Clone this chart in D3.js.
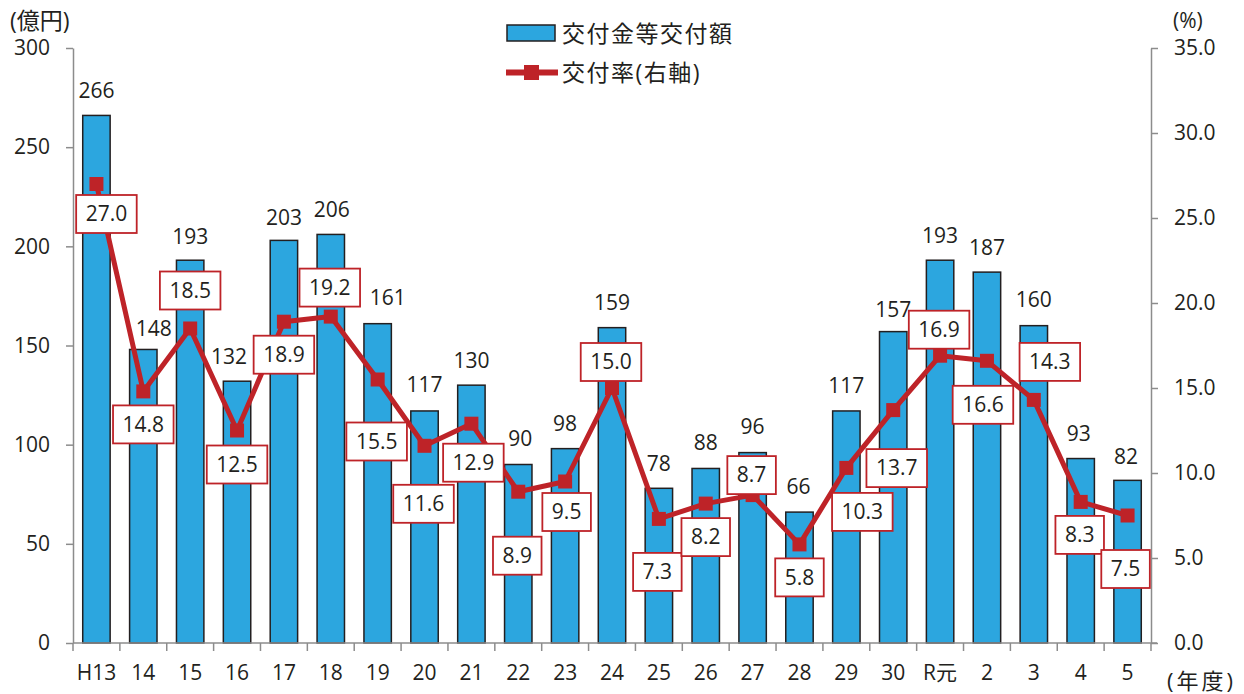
<!DOCTYPE html>
<html><head><meta charset="utf-8">
<script src="https://cdn.jsdelivr.net/npm/d3@7"></script>
<style>
html,body{margin:0;padding:0;background:#fff;}
svg{display:block;}
text{font-family:"Open Sans","Noto Sans CJK JP",sans-serif;fill:#231f20;}
</style></head>
<body>
<svg id="c" width="1244" height="694"></svg>
<script>
const categories = ["H13","14","15","16","17","18","19","20","21","22","23","24","25","26","27","28","29","30","R元","2","3","4","5"];
const amounts = [266,148,193,132,203,206,161,117,130,90,98,159,78,88,96,66,117,157,193,187,160,93,82];
const rates = [27.0,14.8,18.5,12.5,18.9,19.2,15.5,11.6,12.9,8.9,9.5,15.0,7.3,8.2,8.7,5.8,10.3,13.7,16.9,16.6,14.3,8.3,7.5];
const leftTicks = [0,50,100,150,200,250,300];
const rightTicks = [0,5,10,15,20,25,30,35];

// layout nudges for labels (placement only)
const rateLabelNudge = [[10,30],[0,33],[0,-38],[0,34],[0,33],[-1,-29],[-1,62],[-1,58],[2,39],[-1,64],[1.5,30.5],[-1,-26],[-1.5,53],[0,33.5],[-1,-20],[0,33],[16,44],[3.5,58],[-1,-26],[-4,44],[16,-38],[-1,33],[-2,53.5]];
const amountLabelNudge = [[0,-25],[10.5,-20.5],[0,-24],[-8,-25],[0,-23],[1,-24.5],[10,-26.5],[0,-26],[0,-25],[2,-25.5],[0,-24.7],[0,-24.7],[0,-24.3],[0,-25.5],[0,-25.6],[-1,-25.4],[0,-25],[0,-22],[0,-24.3],[0,-24.2],[0,-25.7],[-2,-25.3],[-1.5,-23.7]];

const BLUE = "#2ca6df", RED = "#be2328", AXIS = "#8c8c8c", DARK = "#231f20";
const svg = d3.select("#c");
const L = 73, R = 1151, T = 48, B = 643;

const x = d3.scaleBand().domain(categories).range([L, R]).paddingInner(0).paddingOuter(0);
const yL = d3.scaleLinear().domain([0,300]).range([B, T]);
const yR = d3.scaleLinear().domain([0,35]).range([B, T]);
const bw = x.step() * 0.585;
const cx = d => x(d) + x.bandwidth()/2;

// bars
svg.append("g").selectAll("rect").data(amounts).join("rect")
  .attr("x", (d,i) => cx(categories[i]) - bw/2)
  .attr("y", d => yL(d))
  .attr("width", bw)
  .attr("height", d => B - yL(d))
  .attr("fill", BLUE).attr("stroke", DARK).attr("stroke-width", 1.5);

// axes
const fontSize = 21;
const gL = svg.append("g").attr("transform", `translate(${L},0)`)
  .call(d3.axisLeft(yL).tickValues(leftTicks).tickSize(7).tickSizeOuter(0).tickPadding(16));
const gR = svg.append("g").attr("transform", `translate(${R},0)`)
  .call(d3.axisRight(yR).tickValues(rightTicks).tickSize(7).tickSizeOuter(0).tickPadding(16).tickFormat(d3.format(".1f")));
const gX = svg.append("g").attr("transform", `translate(0,${B})`)
  .call(d3.axisBottom(x).tickSize(0).tickPadding(22));
[gL,gR,gX].forEach(g => {
  g.select(".domain").attr("stroke", AXIS).attr("stroke-width", 1.5);
  g.selectAll(".tick line").attr("stroke", AXIS).attr("stroke-width", 1.5);
  g.selectAll("text").attr("font-size", fontSize).attr("fill", DARK)
    .style("font-family", '"Open Sans","Noto Sans CJK JP",sans-serif');
});
gX.select(".domain").remove();
svg.append("line").attr("x1", L).attr("x2", R+6).attr("y1", B).attr("y2", B).attr("stroke", AXIS).attr("stroke-width", 1.5);
// category boundary ticks
const bounds = categories.map(c => x(c)).concat([R]);
svg.append("g").selectAll("line").data(bounds).join("line")
  .attr("x1", d => d).attr("x2", d => d).attr("y1", B).attr("y2", B + 8)
  .attr("stroke", AXIS).attr("stroke-width", 1.5);

// line
const line = d3.line().x((d,i) => cx(categories[i])).y(d => yR(d));
svg.append("path").datum(rates).attr("d", line)
  .attr("fill", "none").attr("stroke", RED).attr("stroke-width", 5).attr("stroke-linejoin", "round");
svg.append("g").selectAll("rect").data(rates).join("rect")
  .attr("x", (d,i) => cx(categories[i]) - 7).attr("y", d => yR(d) - 7)
  .attr("width", 14).attr("height", 14).attr("fill", RED);

// amount labels
svg.append("g").selectAll("text").data(amounts).join("text")
  .attr("x", (d,i) => cx(categories[i]) + amountLabelNudge[i][0])
  .attr("y", (d,i) => yL(d) + amountLabelNudge[i][1])
  .attr("dy", "0.35em").attr("text-anchor", "middle").attr("font-size", fontSize)
  .text(d => d);

// rate labels with boxes
const rg = svg.append("g");
rates.forEach((v,i) => {
  const px = cx(categories[i]) + rateLabelNudge[i][0];
  const py = yR(v) + rateLabelNudge[i][1];
  const g = rg.append("g");
  const rect = g.append("rect");
  const t = g.append("text").attr("x", px).attr("y", py).attr("dy", "0.35em")
    .attr("text-anchor", "middle").attr("font-size", fontSize).text(d3.format(".1f")(v));
  const w = t.node().getComputedTextLength() + 19;
  const h = 38;
  rect.attr("x", px - w/2).attr("y", py - h/2).attr("width", w).attr("height", h)
    .attr("fill", "#fff").attr("stroke", RED).attr("stroke-width", 1.8);
});

// axis titles
svg.append("text").attr("x", 10).attr("y", 21).attr("dy", "0.35em").attr("font-size", 23).text("(億円)");
svg.append("text").attr("x", 1173).attr("y", 21).attr("dy", "0.35em").attr("font-size", fontSize).text("(%)");
svg.append("text").attr("x", 1167).attr("y", 681).attr("dy", "0.35em").attr("font-size", 22)
  .attr("letter-spacing", 3).text("(年度)");

// legend
const lg = svg.append("g");
lg.append("rect").attr("x", 507).attr("y", 25).attr("width", 48).attr("height", 16)
  .attr("fill", BLUE).attr("stroke", DARK).attr("stroke-width", 1.5);
lg.append("text").attr("x", 562).attr("y", 33.5).attr("dy", "0.35em").attr("font-size", 23)
  .attr("letter-spacing", 1.5).text("交付金等交付額");
lg.append("line").attr("x1", 506).attr("x2", 558).attr("y1", 72.5).attr("y2", 72.5)
  .attr("stroke", RED).attr("stroke-width", 6);
lg.append("rect").attr("x", 524).attr("y", 65).attr("width", 15).attr("height", 15).attr("fill", RED);
lg.append("text").attr("x", 562).attr("y", 72.5).attr("dy", "0.35em").attr("font-size", 23)
  .attr("letter-spacing", 1.5).text("交付率(右軸)");
</script>
</body></html>
